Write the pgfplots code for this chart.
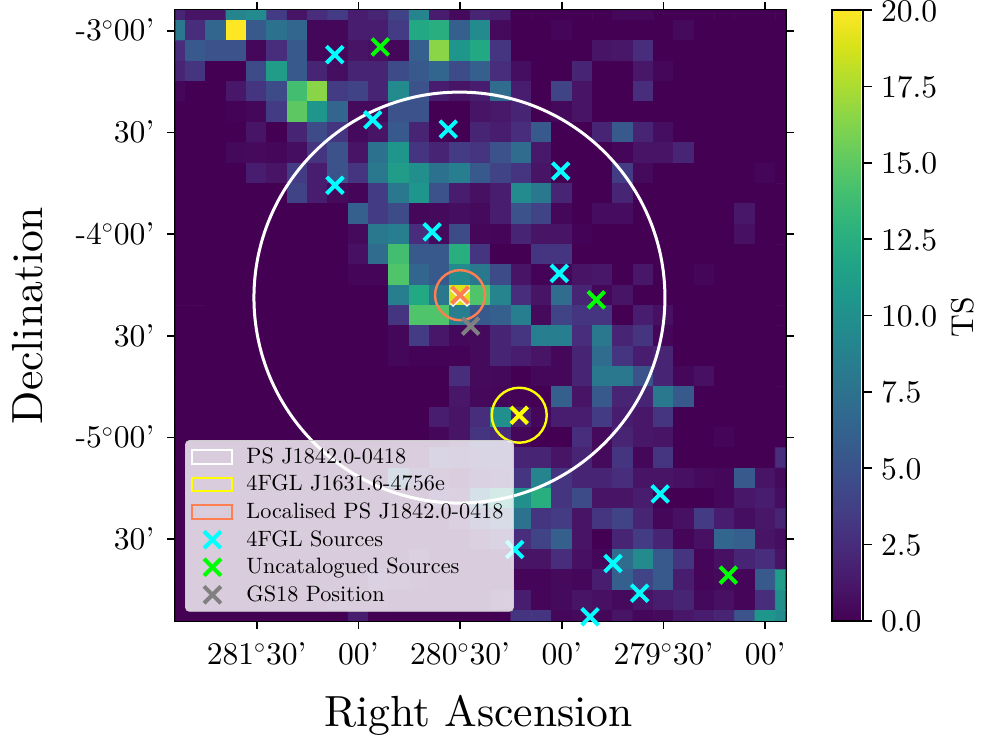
\documentclass[border=0pt]{standalone}
\usepackage{pgfplots}
\pgfplotsset{compat=1.18}

% upright 10pt design at every size, as in the reference
\DeclareFontFamily{TU}{lmten}{}
\DeclareFontShape{TU}{lmten}{m}{n}{<-> \UnicodeFontFile{lmroman10-regular}{\UnicodeFontTeXLigatures}}{}
\renewcommand\rmdefault{lmten}

\definecolor{coral}{HTML}{FF7F50}
\definecolor{limeg}{HTML}{00FF00}
\definecolor{cyanx}{HTML}{00FFFF}
\definecolor{yellowx}{HTML}{FFFF00}
\definecolor{grayx}{HTML}{808080}
\newcommand{\labsize}{\fontsize{21.8}{24}\selectfont}
\newcommand{\ticksize}{\fontsize{15.8}{18}\selectfont}
\newcommand{\legsize}{\fontsize{11.1}{13}\selectfont}

\pgfplotsset{
  rectleg/.style={legend image code/.code={
    \draw[#1,line width=1pt,sharp corners] (0pt,-3.4pt) rectangle (20pt,3.4pt);
    \path[draw=none] (0pt,0pt) -- (25pt,0pt);}},
  crossleg/.style={legend image code/.code={
    \draw[#1,line width=2pt,line cap=butt,sharp corners] (10pt,0pt) +(-4.2pt,-4.2pt) -- +(4.2pt,4.2pt) (10pt,0pt) +(-4.2pt,4.2pt) -- +(4.2pt,-4.2pt);
    \path[draw=none] (0pt,0pt) -- (25pt,0pt);}},
  srcs/.style={only marks,mark=x,mark size=5.9pt,mark options={line width=2pt,draw=#1,solid}},
}

\begin{document}
\begin{tikzpicture}
\path[use as bounding box] (0,0) rectangle (491pt,370pt);
\begin{axis}[
  at={(87.65pt,59.65pt)},anchor=south west,
  scale only axis,width=305.1pt,height=305.2pt,
  xmin=0,xmax=30,ymin=0,ymax=30,y dir=reverse,
  clip mode=individual,
  axis line style={line width=1.35pt},
  tick align=outside,tick pos=both,
  major tick length=4pt,
  every tick/.style={black,line width=.85pt},
  xtick={4,9,14,19,24,29},
  xticklabels={281$^\circ$30',00',280$^\circ$30',00',279$^\circ$30',00'},
  ytick={1,6,11,16,21,26},
  yticklabels={-3$^\circ$00',30',-4$^\circ$00',30',-5$^\circ$00',30'},
  tick label style={font=\ticksize,inner sep=0pt},
  xticklabel style={anchor=base,yshift=-17.8pt},
  yticklabel style={anchor=base east,xshift=-6.3pt,yshift=-5.1pt},
  xlabel={Right Ascension},ylabel={Declination},
  label style={font=\labsize},
  xlabel style={at={(axis description cs:0.497,-0.1737)},anchor=base},
  ylabel style={at={(axis description cs:-0.2173,0.5)},anchor=base},
  colormap/viridis,
  point meta min=0,point meta max=20,
  colorbar,
  colorbar style={
    at={(1.0762,1)},anchor=north west,
    width=15.6pt,
    ytick={0,2.5,...,20},
    tick align=outside,
    ytick pos=right,
    major tick length=4.5pt,
    yticklabel style={/pgf/number format/assume math mode=true,/pgf/number format/fixed,/pgf/number format/fixed zerofill,/pgf/number format/precision=1,font=\ticksize,anchor=base west,xshift=4.2pt,yshift=-5.5pt,inner sep=0pt},
    axis line style={line width=.9pt},
    ylabel={TS},
    ylabel style={font=\ticksize,at={(axis description cs:4.525,0.497)},anchor=base},
  },
  legend style={at={(0.016,0.0147)},anchor=south west,
    font=\legsize,draw=black!20,fill=white,fill opacity=.8,text opacity=1,
    rounded corners=2pt,row sep=.45pt,inner xsep=3pt,inner ysep=1.6pt},
  legend cell align=left,
]
\addplot[matrix plot*,mesh/cols=31,point meta=explicit,forget plot]
  table[row sep=\\,header=false,x expr={mod(\coordindex,31)},y expr={floor(\coordindex/31)},meta index=0]{
2\\1\\1\\9\\9.5\\3.5\\1\\2.5\\3.5\\1.5\\2\\4\\9\\1.5\\.5\\2\\1.5\\0\\0\\0\\0\\0\\.3\\.3\\0\\0\\0\\0\\0\\0\\0\\
8\\2.5\\6.5\\20\\5.5\\7.5\\6.5\\.3\\.3\\1.5\\1.5\\3.5\\12\\12.5\\6\\9.5\\.5\\0\\0\\.2\\0\\0\\0\\0\\0\\.5\\0\\0\\0\\0\\0\\
2.5\\5.5\\5\\5\\.3\\2.5\\5.5\\.3\\.3\\1\\.8\\.3\\6\\16.5\\10.5\\12\\3\\0\\0\\0\\0\\1\\1.2\\2.5\\0\\0\\0\\0\\0\\0\\0\\
2\\3\\0\\0\\4.5\\11\\5.5\\2\\.7\\2\\2\\4.5\\5.5\\6.5\\4.5\\6\\2.5\\.7\\0\\0\\2\\0\\0\\1.2\\.3\\0\\0\\0\\0\\0\\0\\
.3\\0\\0\\1.2\\3\\4.5\\14\\16.5\\3.5\\4\\2\\9.5\\5\\1.5\\1\\1.5\\7\\1.5\\0\\4\\1\\0\\0\\2.5\\0\\0\\0\\0\\0\\0\\0\\
0\\0\\0\\.1\\.3\\3.5\\15\\10.5\\6.5\\.5\\.5\\5\\5\\0\\0\\1\\1.3\\2\\0\\.4\\1\\0\\0\\0\\0\\0\\0\\0\\0\\0\\0\\
0\\0\\0\\0\\1\\0\\2\\4.5\\3\\.5\\1\\5.5\\2\\.1\\0\\2\\1.5\\2.5\\5.5\\0\\0\\2\\5.5\\2\\.7\\0\\0\\0\\0\\0\\0\\
0\\0\\0\\.4\\.5\\.3\\.7\\3\\5\\1\\7.5\\10.5\\3\\2\\3.5\\3\\5\\7\\1.3\\0\\0\\0\\.2\\1\\1\\2\\0\\0\\0\\0\\0\\
0\\0\\0\\0\\1.5\\1\\3.5\\1.5\\5\\3\\8\\11\\10\\7.5\\8.5\\5.5\\4\\3\\1\\0\\0\\0\\3.5\\.5\\0\\0\\0\\0\\0\\.2\\0\\
0\\0\\0\\0\\0\\0\\4\\1.5\\.5\\.2\\3.5\\8\\10.5\\5\\1.5\\.8\\1.5\\9.5\\8\\2\\0\\0\\2\\0\\0\\0\\0\\0\\0\\0\\0\\
0\\0\\0\\0\\0\\0\\0\\0\\0\\6\\3.5\\4.5\\.3\\.5\\.7\\.5\\1.5\\5\\4\\.3\\0\\.6\\.6\\0\\0\\0\\0\\0\\1.2\\0\\0\\
0\\0\\0\\0\\0\\0\\0\\0\\0\\.5\\8\\8.5\\2.5\\.5\\4.5\\.3\\.2\\2\\1\\1\\.1\\0\\0\\0\\0\\0\\0\\0\\.8\\0\\0\\
0\\0\\0\\0\\0\\0\\0\\0\\0\\.8\\7\\14\\5.5\\5.5\\12.5\\3\\0\\0\\3\\3\\0\\0\\0\\0\\0\\0\\0\\0\\0\\0\\0\\
0\\0\\0\\0\\0\\0\\0\\0\\0\\.2\\.2\\14.5\\6.5\\5.5\\9.5\\8\\4.5\\1\\.1\\.2\\1\\1.2\\0\\1.2\\0\\0\\.2\\0\\0\\0\\0\\
0\\0\\0\\0\\0\\0\\0\\0\\0\\0\\0\\8.5\\12\\8\\19\\14.5\\9\\2.5\\1\\7\\2\\.3\\1\\0\\0\\0\\0\\0\\0\\0\\0\\
0\\0\\0\\0\\0\\0\\0\\0\\0\\0\\0\\3\\14.5\\14.5\\8.5\\5.5\\6\\8.5\\.5\\4\\3\\3\\0\\1.5\\.8\\0\\0\\0\\0\\0\\0\\
0\\0\\0\\0\\0\\0\\0\\0\\0\\0\\0\\.3\\3.5\\1.2\\.4\\.5\\2\\3\\8.5\\8.5\\2.5\\8\\2\\3\\.2\\0\\0\\0\\0\\0\\0\\
0\\0\\0\\0\\0\\0\\0\\0\\0\\0\\0\\.3\\.1\\.1\\.1\\.5\\2\\1.5\\1\\.3\\2\\7\\3\\1.5\\2\\0\\0\\0\\0\\0\\0\\
0\\0\\0\\0\\0\\0\\0\\0\\0\\0\\0\\0\\0\\0\\2.5\\.5\\.4\\0\\.3\\.3\\2\\8\\8\\5\\2\\.3\\.8\\0\\0\\0\\0\\
0\\0\\0\\0\\0\\0\\0\\0\\0\\0\\0\\0\\0\\0\\1.2\\.4\\.3\\.1\\0\\6\\1\\5.5\\2\\2\\8\\5.5\\0\\0\\0\\0\\0\\
0\\0\\0\\0\\0\\0\\0\\0\\0\\0\\0\\0\\0\\1.5\\1\\2.5\\10\\1.5\\.3\\1.5\\1.5\\3.5\\1.5\\1.2\\3\\0\\0\\0\\0\\0\\0\\
0\\0\\0\\0\\0\\0\\0\\0\\0\\0\\0\\0\\0\\.3\\1\\3\\2.5\\.3\\0\\0\\2.5\\.5\\2\\1.2\\1\\0\\0\\.2\\0\\0\\0\\
0\\0\\0\\0\\0\\0\\0\\0\\0\\0\\0\\.5\\.5\\2.5\\2\\2.5\\2.5\\2\\2\\1\\2\\.5\\3\\.3\\3\\0\\0\\0\\0\\0\\2.5\\
0\\0\\0\\0\\0\\0\\0\\0\\0\\0\\0\\6\\2\\1\\.5\\1.5\\2\\3\\9\\3\\2\\2\\2.5\\1\\1\\.8\\.5\\.3\\5.5\\1\\.5\\
0\\0\\0\\0\\0\\0\\0\\0\\0\\0\\0\\.5\\0\\1.5\\1\\7\\11\\10\\12.5\\3\\4.5\\1\\1\\1.5\\0\\0\\0\\.3\\1.2\\1.5\\.7\\
0\\0\\0\\0\\0\\0\\0\\0\\0\\0\\0\\0\\0\\0\\1\\3\\5\\7.5\\3\\3.5\\1\\3\\4\\2\\.3\\.8\\3.5\\1.5\\.7\\1.2\\2\\
0\\0\\0\\0\\0\\0\\0\\0\\0\\0\\0\\0\\0\\0\\0\\1\\2\\2.5\\4\\6\\1\\0\\2\\3.5\\2\\.2\\.8\\6.5\\6\\1\\.7\\
0\\0\\0\\0\\0\\0\\0\\0\\0\\0\\0\\0\\1\\0\\0\\0\\0\\1\\1\\2.5\\.8\\.3\\7\\9.5\\5.5\\3\\.2\\.8\\2\\2.5\\1\\
0\\0\\0\\0\\0\\0\\0\\0\\0\\0\\1.5\\1\\.5\\0\\0\\0\\0\\.2\\.2\\.5\\.3\\1.5\\6\\4\\5.5\\1.5\\.2\\.4\\.2\\5.5\\11\\
0\\0\\0\\0\\0\\0\\0\\0\\1\\.5\\.5\\0\\0\\0\\0\\0\\1\\1.5\\.2\\.5\\1\\.8\\.5\\1\\1.5\\2\\.4\\.8\\.2\\2.5\\10\\
0\\0\\0\\0\\0\\0\\0\\0\\0\\1.5\\0\\0\\0\\0\\0\\0\\0\\3\\3\\.3\\.5\\.3\\1\\.3\\.5\\1.2\\1.5\\2\\5\\10.5\\9.5\\
};
% circles
\addplot[only marks,mark=o,mark size=102.75pt,mark options={draw=white,line width=1.5pt,solid},rectleg=white] coordinates {(13.97,14.12)};
\addlegendentry{PS J1842.0-0418}
\addplot[only marks,mark=o,mark size=13.75pt,mark options={draw=yellowx,line width=1.2pt,solid},rectleg=yellowx] coordinates {(16.91,19.90)};
\addlegendentry{4FGL J1631.6-4756e}
\addplot[only marks,mark=o,mark size=12.5pt,mark options={draw=coral,line width=1.2pt,solid},rectleg=coral] coordinates {(14,14)};
\addlegendentry{Localised PS J1842.0-0418}
% sources
\addplot[srcs=cyanx,crossleg=cyanx] coordinates {(7.84,2.18) (9.71,5.38) (13.42,5.84) (7.85,8.60) (18.95,7.90) (12.63,10.89) (18.88,12.93) (23.84,23.77) (16.69,26.50) (21.52,27.19) (22.83,28.65) (20.39,29.81)};
\addlegendentry{4FGL Sources}
\addplot[srcs=limeg,crossleg=limeg] coordinates {(10.08,1.80) (20.70,14.23) (27.19,27.76)};
\addlegendentry{Uncatalogued Sources}
\addplot[srcs=grayx,crossleg=grayx] coordinates {(14.52,15.52)};
\addlegendentry{GS18 Position}
\addplot[srcs=yellowx,forget plot] coordinates {(16.91,19.90)};
\addplot[srcs=white,forget plot] coordinates {(14,14.1)};
\addplot[srcs=coral,forget plot] coordinates {(14,14)};
\end{axis}
\end{tikzpicture}
\end{document}
